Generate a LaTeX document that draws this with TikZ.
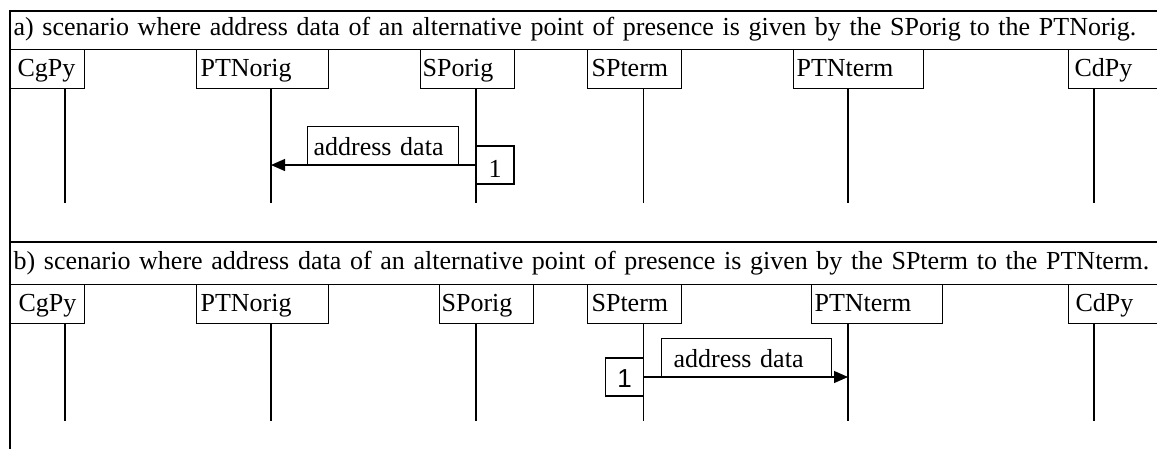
\documentclass[tikz,border=0pt]{standalone}
\usepackage{fontspec}
\setmainfont{Liberation Serif}
\newfontfamily\arialfont{Liberation Sans}
\usetikzlibrary{arrows.meta}
\begin{document}
\begin{tikzpicture}[x=1pt,y=-1pt, line width=1.2pt,
  every node/.style={font=\fontsize{26}{30}\selectfont},
  partbox/.style={draw, anchor=north west, minimum height=39pt, align=left, text height=18pt, text depth=4pt, inner ysep=0pt},
  titlebox/.style={draw, anchor=north west, minimum height=38pt, align=left, text height=18pt, text depth=8pt, inner ysep=0pt, inner xsep=3pt, text width=1150pt},
  msgbox/.style={draw, anchor=south west, minimum height=38pt, align=left, text height=20pt, text depth=0pt, inner ysep=0pt},
  numbox/.style={draw, minimum width=38pt, minimum height=38pt, inner sep=0pt, text height=24pt, text depth=0pt},
  msg/.style={-{Triangle[length=14pt,width=12pt]}}
]
\useasboundingbox (0,0) rectangle (1157,448);
% frames
\draw (10,11) rectangle (1170,242);
\draw (10,242) rectangle (1170,460);
% ---------- scenario a ----------
\node[titlebox] (titleA) at (10,11) {a) scenario where address data of an alternative point of presence is given by the SPorig to the PTNorig.};
\node[partbox, text width=60pt, inner xsep=7pt] (cgpyA) at (10,49) {CgPy};
\node[partbox, text width=124pt, inner xsep=4pt] (ptnorigA) at (196,49) {PTNorig};
\node[partbox, text width=90pt, inner xsep=2pt] (sporigA) at (420,49) {SPorig};
\node[partbox, text width=86pt, inner xsep=4pt] (sptermA) at (587,49) {SPterm};
\node[partbox, text width=124pt, inner xsep=3pt] (ptntermA) at (793,49) {PTNterm};
\node[partbox, text width=90pt, inner xsep=6pt] (cdpyA) at (1068,49) {CdPy};
\coordinate (cgpyAend) at (65,203);
\coordinate (ptnorigAend) at (271,203);
\coordinate (sporigAend) at (476,203);
\coordinate (sptermAend) at (643.5,203);
\coordinate (ptntermAend) at (848,203);
\coordinate (cdpyAend) at (1094,203);
\foreach \p in {cgpyA,ptnorigA,sporigA,sptermA,ptntermA,cdpyA}
  \draw (\p.south -| \p end) -- (\p end);
\node[numbox] (oneA) at (495,165) {1};
\node[msgbox, text width=139pt, inner xsep=6pt] (addrA) at (307,165) {address data};
\draw[msg] (oneA.west) -- (oneA.west -| ptnorigAend);
% ---------- scenario b ----------
\node[titlebox, minimum height=42pt, text height=20pt] (titleB) at (10,242) {b) scenario where address data of an alternative point of presence is given by the SPterm to the PTNterm.};
\node[partbox, text width=58pt, inner xsep=8pt] (cgpyB) at (10,284) {CgPy};
\node[partbox, text width=124pt, inner xsep=4pt] (ptnorigB) at (196,284) {PTNorig};
\node[partbox, text width=90pt, inner xsep=2pt] (sporigB) at (439,284) {SPorig};
\node[partbox, text width=86pt, inner xsep=4pt] (sptermB) at (587,284) {SPterm};
\node[partbox, text width=125pt, inner xsep=3pt] (ptntermB) at (811,284) {PTNterm};
\node[partbox, text width=90pt, inner xsep=7pt] (cdpyB) at (1068,284) {CdPy};
\coordinate (cgpyBend) at (65,421);
\coordinate (ptnorigBend) at (271,421);
\coordinate (sporigBend) at (476,421);
\coordinate (sptermBend) at (643.5,421);
\coordinate (ptntermBend) at (848,421);
\coordinate (cdpyBend) at (1094,421);
\foreach \p in {cgpyB,ptnorigB,sporigB,sptermB,ptntermB,cdpyB}
  \draw (\p.south -| \p end) -- (\p end);
\node[numbox, font=\arialfont\fontsize{26}{30}\selectfont, text height=20pt] (oneB) at (624.5,377) {1};
\node[msgbox, text width=146pt, inner xsep=12pt] (addrB) at (661,377) {address data};
\draw[msg] (oneB.east) -- (oneB.east -| ptntermBend);
\end{tikzpicture}
\end{document}
